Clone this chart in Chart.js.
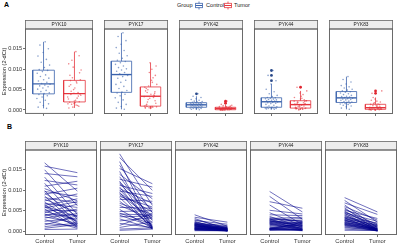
<!DOCTYPE html>
<html><head><meta charset="utf-8">
<script src="https://cdn.jsdelivr.net/npm/chart.js@4.4.0/dist/chart.umd.min.js"></script>
<style>
html,body{margin:0;padding:0;background:#fff;width:400px;height:244px;overflow:hidden;font-family:'Liberation Sans',Arial,sans-serif;}
canvas{position:absolute;}
.lab{position:absolute;font-weight:bold;font-size:7px;line-height:8px;color:#000;}
.lg{position:absolute;font-size:5.6px;line-height:8px;top:1px;color:#1a1a1a;white-space:nowrap;}
svg{position:absolute;}
</style></head><body>
<div class="lab" style="left:4px;top:1px">A</div>
<div class="lab" style="left:7px;top:123px">B</div>
<span class="lg" style="left:177px">Group</span>
<svg width="8" height="9" style="left:195px;top:0.5px"><line x1="4" y1="0.5" x2="4" y2="8.5" stroke="#3A62AC" stroke-width="0.8"/><rect x="0.6" y="2.3" width="6.8" height="4.4" fill="#fff" stroke="#3A62AC" stroke-width="0.8"/><line x1="0.6" y1="4.5" x2="7.4" y2="4.5" stroke="#3A62AC" stroke-width="1"/></svg>
<span class="lg" style="left:206px">Control</span>
<svg width="8" height="9" style="left:224px;top:0.5px"><line x1="4" y1="0.5" x2="4" y2="8.5" stroke="#E5353D" stroke-width="0.8"/><rect x="0.6" y="2.3" width="6.8" height="4.4" fill="#fff" stroke="#E5353D" stroke-width="0.8"/><line x1="0.6" y1="4.5" x2="7.4" y2="4.5" stroke="#E5353D" stroke-width="1"/></svg>
<span class="lg" style="left:234px">Tumor</span>
<script>
const genes = ["PYK10","PYK17","PYK42","PYK44","PYK83"];
const groups = ["Control","Tumor"];
const yTickValues = [0.000, 0.005, 0.010, 0.015];

const pyk10Control = [0.0167,0.0159,0.0150,0.0141,0.0132,0.0124,0.0117,0.0110,0.0104,0.0099,0.0097,0.0094,0.0090,0.0086,0.0082,0.0078,0.0074,0.0071,0.0068,0.0065,0.0063,0.0061,0.0059,0.0057,0.0054,0.0051,0.0048,0.0045,0.0042,0.0040,0.0038,0.0035,0.0032,0.0028,0.0024,0.0019,0.0015,0.0011,0.0007,0.0004];
const pyk10Tumor = [0.0098,0.0143,0.0062,0.0133,0.0041,0.0113,0.0029,0.0122,0.0074,0.0018,0.0085,0.0034,0.0105,0.0015,0.0069,0.0046,0.0091,0.0022,0.0058,0.0011,0.0079,0.0036,0.0024,0.0072,0.0009,0.0050,0.0027,0.0066,0.0014,0.0039,0.0054,0.0019,0.0043,0.0007,0.0032,0.0012,0.0038,0.0020,0.0016,0.0005];

const pyk17Control = [0.0189,0.0180,0.0170,0.0161,0.0153,0.0146,0.0139,0.0133,0.0127,0.0122,0.0119,0.0116,0.0112,0.0108,0.0104,0.0101,0.0098,0.0095,0.0092,0.0089,0.0085,0.0082,0.0078,0.0073,0.0068,0.0063,0.0058,0.0053,0.0048,0.0044,0.0042,0.0039,0.0035,0.0030,0.0025,0.0019,0.0014,0.0009,0.0005,0.0002];
const pyk17Tumor = [0.0063,0.0100,0.0009,0.0045,0.0116,0.0007,0.0079,0.0026,0.0108,0.0006,0.0053,0.0035,0.0092,0.0010,0.0068,0.0020,0.0085,0.0004,0.0047,0.0031,0.0059,0.0008,0.0073,0.0014,0.0041,0.0029,0.0056,0.0007,0.0050,0.0017,0.0039,0.0012,0.0037,0.0006,0.0033,0.0009,0.0043,0.0023,0.0008,0.0005];

const pyk42Control = [0.0040,0.0034,0.0031,0.0028,0.0026,0.0024,0.0022,0.0021,0.0020,0.0019,0.0018,0.0018,0.0017,0.0017,0.0016,0.0016,0.0015,0.0014,0.0014,0.0013,0.0013,0.0012,0.0012,0.0011,0.0010,0.0010,0.0009,0.0008,0.0008,0.0007,0.0007,0.0006,0.0006,0.0005,0.0005,0.0004,0.0004,0.0003,0.0002,0.0001];
const pyk42Tumor = [0.0012,0.0022,0.0004,0.0008,0.0017,0.0001,0.0006,0.0011,0.0002,0.0007,0.0014,0.0001,0.0005,0.0009,0.0003,0.0000,0.0010,0.0004,0.0001,0.0007,0.0002,0.0006,0.0008,0.0001,0.0005,0.0003,0.0004,0.0001,0.0007,0.0002,0.0006,0.0001,0.0004,0.0000,0.0005,0.0003,0.0001,0.0002,0.0001,0.0001];

const pyk44Control = [0.0097,0.0085,0.0072,0.0064,0.0051,0.0045,0.0040,0.0036,0.0033,0.0031,0.0030,0.0029,0.0028,0.0027,0.0026,0.0025,0.0024,0.0023,0.0022,0.0021,0.0020,0.0019,0.0018,0.0017,0.0016,0.0014,0.0012,0.0010,0.0008,0.0007,0.0007,0.0006,0.0006,0.0005,0.0005,0.0004,0.0004,0.0003,0.0003,0.0002];
const pyk44Tumor = [0.0047,0.0029,0.0056,0.0016,0.0042,0.0013,0.0038,0.0009,0.0023,0.0034,0.0005,0.0025,0.0011,0.0031,0.0003,0.0020,0.0014,0.0027,0.0007,0.0018,0.0001,0.0023,0.0012,0.0004,0.0021,0.0008,0.0015,0.0002,0.0019,0.0005,0.0013,0.0003,0.0010,0.0001,0.0022,0.0006,0.0017,0.0004,0.0002,0.0005];

const pyk83Control = [0.0082,0.0075,0.0069,0.0064,0.0060,0.0057,0.0054,0.0051,0.0049,0.0047,0.0045,0.0044,0.0042,0.0040,0.0038,0.0036,0.0034,0.0033,0.0032,0.0031,0.0029,0.0028,0.0027,0.0026,0.0025,0.0024,0.0022,0.0021,0.0020,0.0019,0.0018,0.0017,0.0016,0.0015,0.0014,0.0012,0.0010,0.0008,0.0005,0.0002];
const pyk83Tumor = [0.0047,0.0022,0.0041,0.0008,0.0027,0.0002,0.0015,0.0031,0.0005,0.0012,0.0024,0.0001,0.0018,0.0003,0.0010,0.0006,0.0020,0.0000,0.0014,0.0004,0.0016,0.0002,0.0009,0.0005,0.0013,0.0001,0.0007,0.0003,0.0011,0.0002,0.0006,0.0000,0.0007,0.0004,0.0001,0.0005,0.0002,0.0003,0.0001,0.0002];

const controlValues = [pyk10Control, pyk17Control, pyk42Control, pyk44Control, pyk83Control];
const tumorValues = [pyk10Tumor, pyk17Tumor, pyk42Tumor, pyk44Tumor, pyk83Tumor];

const COL = ["#3A62AC", "#E5353D"];
const COL_DARK = ["#2B4A8A", "#E0252F"];
const COL_PT = ["rgba(58,98,172,0.6)", "rgba(229,53,61,0.6)"];
const LINE_COL = "rgba(0,0,139,0.8)";

Chart.defaults.font.family = "'Liberation Sans', Arial, sans-serif";

function quantile(s, p){ const h=(s.length-1)*p, lo=Math.floor(h), hi=Math.ceil(h); return s[lo]+(s[hi]-s[lo])*(h-lo); }
function boxStats(vals){
  const s=[...vals].sort((a,b)=>a-b);
  const q1=quantile(s,.25), med=quantile(s,.5), q3=quantile(s,.75), iqr=q3-q1;
  const lf=q1-1.5*iqr, uf=q3+1.5*iqr;
  const inside=s.filter(v=>v>=lf&&v<=uf);
  return {q1,med,q3,lo:inside[0],hi:inside[inside.length-1],out:s.filter(v=>v<lf||v>uf)};
}
function jitter(j,k){ return ((((j+1)*0.6180339887 + k*0.37) % 1) - 0.5) * 0.44; }

const allVals = controlValues.flat().concat(tumorValues.flat());
const dMin = Math.min(...allVals), dMax = Math.max(...allVals);
const yMin = dMin - 0.05*(dMax-dMin), yMax = dMax + 0.05*(dMax-dMin);

const stripPlugin = {
  id:'strip',
  beforeDraw(chart){
    const {ctx, chartArea:a} = chart;
    ctx.save();
    ctx.fillStyle='#EDEDED'; ctx.strokeStyle='#666'; ctx.lineWidth=0.8;
    ctx.fillRect(a.left, 0.5, a.right-a.left, a.top-0.5);
    ctx.strokeRect(a.left+0.4, 0.4, a.right-a.left-0.8, a.top-0.4);
    ctx.restore();
  },
  afterDraw(chart){
    const {ctx, chartArea:a} = chart;
    ctx.save();
    ctx.strokeStyle='#5a5a5a'; ctx.lineWidth=0.9;
    ctx.strokeRect(a.left+0.45, a.top, a.right-a.left-0.9, a.bottom-a.top-0.45);
    ctx.restore();
  }
};

function makeChart(row, i, datasets){
  const first = i === 0;
  const left = first ? 0 : 25 + 75*i;
  const width = first ? 97 : 72;
  const top = row === 0 ? 20 : 141;
  const height = row === 0 ? 98 : 103;
  const xH = row === 0 ? 3 : 9;
  const cv = document.createElement('canvas');
  cv.width = width; cv.height = height;
  cv.style.left = left+'px'; cv.style.top = top+'px';
  cv.style.width = width+'px'; cv.style.height = height+'px';
  document.body.appendChild(cv);
  new Chart(cv, {
    type:'scatter',
    data:{datasets},
    options:{
      responsive:false, animation:false, events:[],
      layout:{padding:0},
      plugins:{
        legend:{display:false}, tooltip:{enabled:false},
        title:{display:true, text:genes[i], fullSize:false, padding:{top:1.7,bottom:1.54}, font:{size:4.8, lineHeight:1.2, weight:'normal'}, color:'#1a1a1a'}
      },
      scales:{
        x:{type:'linear', min:0.4, max:2.6,
          afterBuildTicks(s){ s.ticks=[{value:1},{value:2}]; },
          afterFit(s){ s.height = xH; },
          grid:{display:true, drawOnChartArea:false, drawTicks:true, tickLength:2, color:'#333', lineWidth:0.7},
          border:{display:false},
          ticks:{display: row===1, padding:0.5, font:{size:5.8}, color:'#333', maxRotation:0, autoSkip:false,
            callback:(v)=> v===1?groups[0]:(v===2?groups[1]:'')}
        },
        y:{type:'linear', min:yMin, max:yMax, display:first,
          afterBuildTicks(s){ s.ticks=yTickValues.map(v=>({value:v})); },
          afterFit(s){ s.width = first ? 25 : 0; },
          grid:{drawOnChartArea:false, tickLength:2, color:'#333', lineWidth:0.7},
          border:{display:false},
          ticks:{padding:0.8, font:{size:5.6}, color:'#333', callback:v=>v.toFixed(3)},
          title:{display:true, text:'Expression (2-dCt)', font:{size:5.7}, color:'#1a1a1a', padding:{top:1.2,bottom:0}}
        }
      }
    },
    plugins:[stripPlugin]
  });
}

function boxDatasets(i){
  const ds=[];
  [controlValues[i], tumorValues[i]].forEach((vals,k)=>{
    const x=k+1, w=0.35, st=boxStats(vals);
    const lineDs=(data,bw)=>({data, showLine:true, borderColor:COL[k], borderWidth:bw, pointRadius:0, fill:false, order:2});
    ds.push(lineDs([{x:x-w,y:st.q1},{x:x+w,y:st.q1},{x:x+w,y:st.q3},{x:x-w,y:st.q3},{x:x-w,y:st.q1}],0.8));
    ds.push(lineDs([{x:x-w,y:st.med},{x:x+w,y:st.med}],1.4));
    ds.push(lineDs([{x:x,y:st.q3},{x:x,y:st.hi}],0.8));
    ds.push(lineDs([{x:x,y:st.lo},{x:x,y:st.q1}],0.8));
    ds.push({data:st.out.map(v=>({x:x,y:v})), pointRadius:1.4, pointBackgroundColor:COL_DARK[k], pointBorderWidth:0, order:1});
    ds.push({data:vals.map((v,j)=>({x:x+jitter(j,k),y:v})), pointRadius:0.8, pointBackgroundColor:COL_PT[k], pointBorderWidth:0, order:0});
  });
  return ds;
}
function pairDatasets(i){
  return controlValues[i].map((c,j)=>({data:[{x:1,y:c},{x:2,y:tumorValues[i][j]}], showLine:true, borderColor:LINE_COL, borderWidth:0.7, pointRadius:0}));
}

genes.forEach((g,i)=>{ makeChart(0, i, boxDatasets(i)); makeChart(1, i, pairDatasets(i)); });
</script>
</body></html>
